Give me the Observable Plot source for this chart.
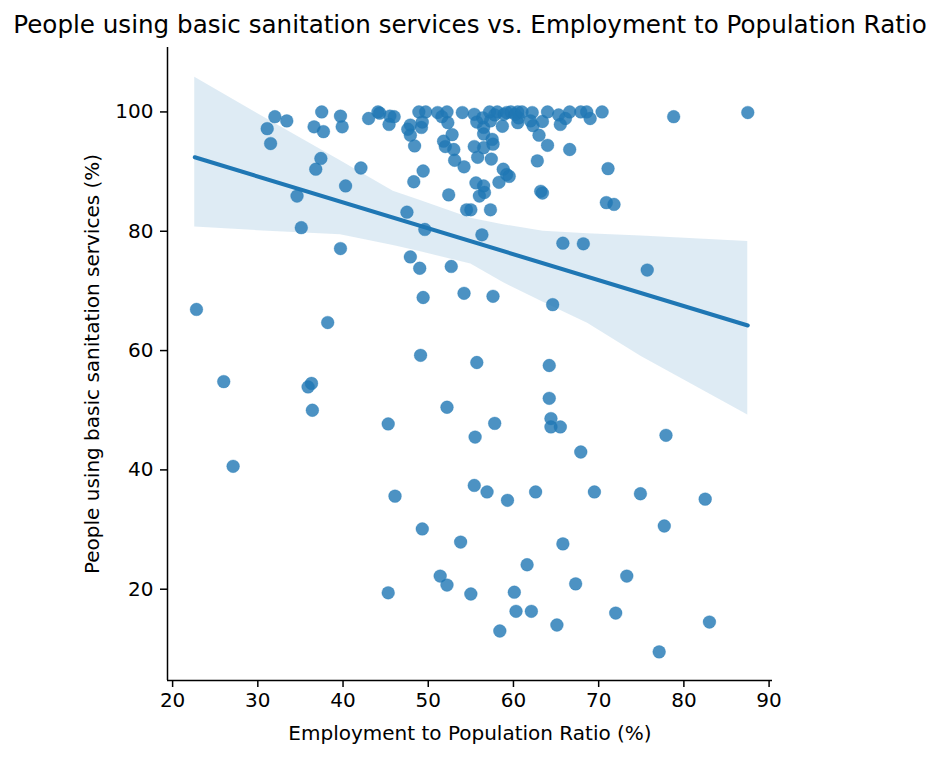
<!DOCTYPE html>
<html>
<head>
<meta charset="utf-8">
<script src="https://cdn.jsdelivr.net/npm/d3@7"></script>
<script src="https://cdn.jsdelivr.net/npm/@observablehq/plot@0.6"></script>
<style>
  html, body { margin: 0; padding: 0; background: #fff; }
  #wrap { width: 940px; height: 757px; position: relative; overflow: hidden; }
  #title { height: 46px; line-height: 50px; text-align: center; font-family: "DejaVu Sans", sans-serif; font-size: 24.6px; color: #000; white-space: nowrap; }
  svg { display: block; }
</style>
</head>
<body>
<div id="wrap">
  <div id="title">People using basic sanitation services vs. Employment to Population Ratio</div>
  <div id="chart"></div>
</div>
<script>
// Employment to Population Ratio (%)
const employment = [
  22.8, 26.0, 27.1, 31.1, 31.5, 32.0, 33.4, 34.6, 35.1, 35.9,
  36.3, 36.4, 36.6, 36.8, 37.4, 37.5, 37.7, 38.2, 39.7, 39.7,
  39.9, 40.3, 42.1, 43.0, 44.1, 44.3, 45.5, 46.0, 45.4, 45.3,
  45.3, 46.1, 47.5, 47.9, 47.6, 47.9, 47.9, 48.3, 48.4, 48.9,
  49.7, 49.2, 49.3, 49.0, 49.1, 49.3, 49.4, 49.6, 49.4, 51.1,
  51.6, 52.2, 52.3, 51.8, 52.0, 52.8, 53.0, 53.1, 52.4, 52.7,
  52.2, 51.4, 52.2, 53.8, 54.0, 54.2, 54.2, 54.5, 55.0, 55.0,
  55.4, 55.5, 55.7, 55.4, 55.7, 56.4, 56.5, 56.5, 55.4, 56.5,
  55.8, 55.6, 56.5, 56.6, 56.0, 57.3, 56.3, 57.2, 57.3, 57.5,
  57.6, 57.4, 58.1, 58.9, 59.7, 60.5, 60.6, 58.7, 60.5, 58.3,
  58.8, 59.2, 59.5, 57.6, 57.8, 56.9, 59.3, 58.4, 60.1, 60.3,
  61.6, 62.1, 62.6, 62.2, 62.0, 62.3, 63.0, 62.8, 63.2, 63.4,
  63.4, 64.0, 64.0, 64.2, 64.2, 64.4, 64.4, 64.6, 65.5, 65.1,
  65.3, 65.5, 66.1, 66.6, 65.8, 65.8, 66.6, 67.3, 67.9, 68.2,
  67.9, 68.6, 69.0, 69.5, 70.4, 71.1, 70.9, 71.8, 72.0, 73.3,
  74.9, 75.7, 77.1, 77.7, 77.9, 78.8, 82.5, 83.0, 87.5, 57.8,
  59.2, 60.2, 61.0
];
// People using basic sanitation services (%)
const sanitation = [
  66.9, 54.8, 40.6, 97.2, 94.7, 99.2, 98.5, 85.9, 80.6, 53.9,
  54.5, 50.0, 97.5, 90.4, 92.2, 100.0, 96.7, 64.7, 77.1, 99.3,
  97.5, 87.6, 90.6, 98.9, 100.0, 99.8, 99.3, 99.2, 97.9, 47.7,
  19.4, 35.6, 83.2, 97.8, 97.1, 96.1, 75.7, 88.3, 94.3, 100.0,
  100.0, 97.4, 98.3, 73.8, 59.2, 30.1, 68.9, 80.3, 90.1, 99.9,
  99.2, 100.0, 98.2, 95.1, 94.2, 96.2, 93.7, 91.9, 86.1, 74.1,
  50.5, 22.2, 20.7, 27.9, 99.9, 90.8, 69.6, 83.6, 83.6, 19.2,
  37.4, 45.5, 58.0, 99.6, 98.3, 99.0, 97.4, 96.3, 94.2, 94.0,
  92.4, 88.1, 87.6, 86.5, 85.9, 83.6, 79.4, 100.0, 98.5, 95.4,
  94.6, 92.1, 100.0, 99.6, 100.0, 100.0, 99.0, 97.6, 98.2, 88.2,
  90.4, 89.5, 89.2, 69.1, 47.8, 36.3, 34.9, 13.0, 19.5, 16.3,
  24.1, 16.3, 36.3, 99.9, 98.5, 97.7, 96.1, 91.8, 86.7, 86.4,
  98.4, 100.0, 94.4, 57.5, 52.0, 48.6, 47.2, 67.7, 47.2, 14.0,
  99.5, 97.9, 98.9, 93.7, 78.0, 27.6, 100.0, 20.9, 43.0, 77.9,
  100.0, 100.0, 98.9, 36.3, 100.0, 90.5, 84.8, 84.5, 16.0, 22.2,
  36.0, 73.5, 9.5, 30.6, 45.8, 99.2, 35.1, 14.5, 99.9, 99.5,
  99.9, 99.6, 100.0
];

// Fitted regression line
const fitX = [22.6, 87.5];
const fitY = [92.4, 64.2];

// Confidence band edges
const bandX     = [22.6, 30.0, 39.7, 45.9, 49.0, 55.0, 58.8, 63.5, 68.7, 75.0, 87.5];
const bandUpper = [105.8, 99.7, 91.8, 86.7, 85.2, 82.2, 81.1, 80.0, 79.6, 79.2, 78.3];
const bandLower = [80.7, 80.1, 79.4, 77.6, 76.6, 74.5, 71.4, 68.1, 64.6, 59.0, 49.2];

const xTicks = [20, 30, 40, 50, 60, 70, 80, 90];
const yTicks = [20, 40, 60, 80, 100];

const points = employment.map((x, i) => ({x, y: sanitation[i]}));
const fit = fitX.map((x, i) => ({x, y: fitY[i]}));
const band = bandX.map((x, i) => ({x, lo: bandLower[i], hi: bandUpper[i]}));

const X0 = 19.4, X1 = 90.4, Y0 = 4.7, Y1 = 110.8;
const blue = "#1f77b4";

const chart = Plot.plot({
  width: 940,
  height: 711,
  marginLeft: 167,
  marginRight: 168,
  marginTop: 1,
  marginBottom: 77,
  style: {fontFamily: "DejaVu Sans, sans-serif", fontSize: "20px", color: "#000", background: "#fff", overflow: "visible"},
  x: {domain: [X0, X1]},
  y: {domain: [Y0, Y1]},
  marks: [
    Plot.areaY(band, {x: "x", y1: "lo", y2: "hi", fill: blue, fillOpacity: 0.15}),
    Plot.dot(points, {x: "x", y: "y", r: 6.4, fill: blue, fillOpacity: 0.8, stroke: blue, strokeOpacity: 0.3, strokeWidth: 1}),
    Plot.line(fit, {x: "x", y: "y", stroke: blue, strokeWidth: 4}),
    Plot.axisX({ticks: xTicks, tickSize: 7, tickPadding: 5, strokeWidth: 1.5,
      label: "Employment to Population Ratio (%)", labelAnchor: "center", labelArrow: "none", labelOffset: 59}),
    Plot.axisY({ticks: yTicks, tickSize: 7, tickPadding: 7, strokeWidth: 1.5,
      label: "People using basic sanitation services (%)", labelAnchor: "center", labelArrow: "none", labelOffset: 83}),
    Plot.ruleX([X0], {stroke: "#000", strokeWidth: 1.5}),
    Plot.ruleY([Y0], {stroke: "#000", strokeWidth: 1.5})
  ]
});
document.getElementById("chart").appendChild(chart);
</script>
</body>
</html>
